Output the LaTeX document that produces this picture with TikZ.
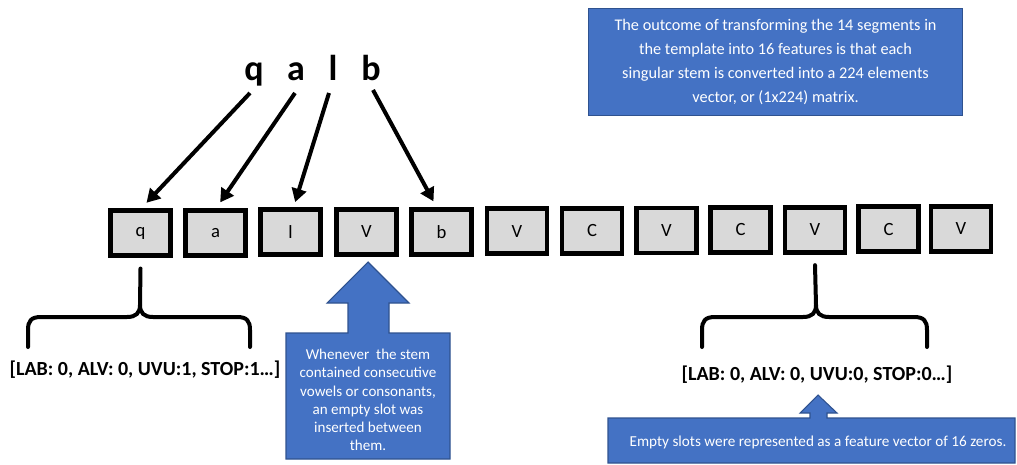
\documentclass[tikz,border=0pt]{standalone}
\usepackage{fontspec}
\setmainfont{Carlito}
\usetikzlibrary{arrows.meta,calc}
\definecolor{boxgray}{HTML}{D9D9D9}
\definecolor{bluefill}{HTML}{4472C4}
\definecolor{blueline}{HTML}{2F528F}
\begin{document}
\begin{tikzpicture}[x=0.75pt,y=-0.75pt,
  seg/.style={draw=black,line width=3.6pt,fill=boxgray,minimum width=45pt,minimum height=33.75pt,inner sep=0pt,font=\fontsize{14}{16}\selectfont},
  big/.style={font=\fontsize{27}{30}\selectfont\bfseries,inner sep=0pt,anchor=base},
  arr/.style={line width=3pt,-{Triangle[length=10pt,width=11pt]}},
  brace/.style={line width=3pt,line cap=round},
  callout/.style={fill=bluefill,draw=blueline,line width=0.8pt},
  wtext/.style={text=white,align=center,inner sep=0pt},
  vec/.style={font=\fontsize{15}{17}\selectfont\bfseries,inner sep=0pt}]
\useasboundingbox (0,0) rectangle (1017,464);

% top-right note
\node[callout,minimum width=280.5pt,minimum height=80.25pt,anchor=north west,inner sep=0pt] (note) at (588,8) {};
\node[wtext,font=\fontsize{12.2}{17.8}\selectfont] (notetext) at (note.center)
 {The outcome of transforming the 14 segments in\\the template into 16 features is that each\\singular stem is converted into a 224 elements\\vector, or (1x224) matrix.};

% stem letters
\node[big] (lq) at (254,80) {q};
\node[big] (la) at (296,80) {a};
\node[big] (ll) at (333,80) {l};
\node[big] (lb) at (371,80) {b};

% segment boxes
\node[seg] (bq) at (140.5,233) {q};
\node[seg] (ba) at (215.5,232.6) {a};
\node[seg] (bl) at (290.5,232.3) {l};
\node[seg] (bv1) at (366.5,232) {V};
\node[seg] (bb) at (441.5,231.6) {b};
\node[seg] (bv2) at (517,231.2) {V};
\node[seg] (bc1) at (592,230.8) {C};
\node[seg] (bv3) at (666.5,230.4) {V};
\node[seg] (bc2) at (740.5,230.0) {C};
\node[seg] (bv4) at (815,229.6) {V};
\node[seg] (bc3) at (888.5,229.2) {C};
\node[seg] (bv5) at (961,228.8) {V};

% arrows from letters
\coordinate (sq) at (250,93);
\coordinate (sa) at (295,93);
\coordinate (sl) at (329,93);
\coordinate (sb) at (373,90);
\draw[arr] (sq) -- ([xshift=4.5pt,yshift=4pt]bq.north);
\draw[arr] (sa) -- ([xshift=3.5pt,yshift=4pt]ba.north);
\draw[arr] (sl) -- ([xshift=3.5pt,yshift=4pt]bl.north);
\draw[arr] (sb) -- ([xshift=-6pt,yshift=4pt]bb.north);

% left brace
\draw[brace] ([yshift=-8pt]bq.south) -- (140,305) .. controls (140,313) and (136,317) .. (127,317)
  -- (41,317) .. controls (31,317) and (28,321) .. (28,330) -- (28,347);
\draw[brace] (140,305) .. controls (140,313) and (144,317) .. (153,317)
  -- (237,317) .. controls (247,317) and (250,321) .. (250,330) -- (250,347);
\node[vec] (vq) at (145,370) {[LAB: 0, ALV: 0, UVU:1, STOP:1…]};

% right brace
\draw[brace] ([yshift=-8pt]bv4.south) -- (816,305) .. controls (816,313) and (812,317) .. (803,317)
  -- (715,317) .. controls (705,317) and (702,321) .. (702,330) -- (702,347);
\draw[brace] (816,305) .. controls (816,313) and (820,317) .. (829,317)
  -- (914,317) .. controls (924,317) and (927,321) .. (927,330) -- (927,347);
\node[vec] (vv) at (817,375) {[LAB: 0, ALV: 0, UVU:0, STOP:0…]};

% middle callout
\draw[callout] (368,262) -- (409,303) -- (389,303) -- (389,333) -- (450,333) -- (450,459)
  -- (286,459) -- (286,333) -- (348,333) -- (348,303) -- (327,303) -- cycle;
\node[wtext,font=\fontsize{11.3}{13.6}\selectfont] (midtext) at (368,400)
 {Whenever\ \ the stem\\contained consecutive\\vowels or consonants,\\an empty slot was\\inserted between\\them.};

% bottom-right callout
\draw[callout] (818,395) -- (837,413) -- (827,413) -- (827,418) -- (1015,418) -- (1015,463)
  -- (608,463) -- (608,418) -- (810,418) -- (810,413) -- (800,413) -- cycle;
\node[wtext,font=\fontsize{11.4}{13}\selectfont] (bottext) at (818,442)
 {Empty slots were represented as a feature vector of 16 zeros.};
\end{tikzpicture}
\end{document}
